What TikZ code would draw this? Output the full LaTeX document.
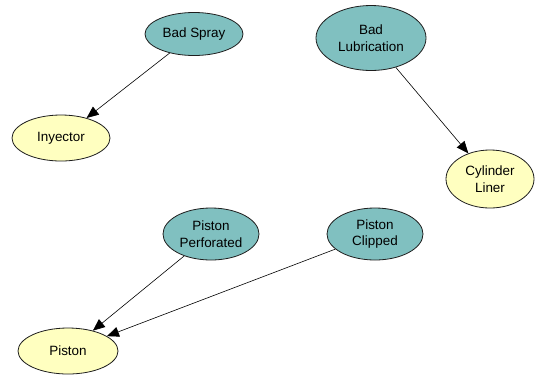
\documentclass[tikz,border=0pt]{standalone}
\usepackage{fontspec}
\setmainfont{Liberation Sans}
\usetikzlibrary{shapes.geometric,arrows.meta}
\definecolor{causefill}{RGB}{128,192,192}
\definecolor{effectfill}{RGB}{255,255,192}
\definecolor{edgeline}{RGB}{30,30,30}
\begin{document}
\begin{tikzpicture}[x=1bp,y=-1bp,
  bubble/.style={ellipse,draw=edgeline,line width=0.8bp,inner sep=0pt,align=center,
    font=\fontsize{13.5}{17}\selectfont},
  cause/.style={bubble,fill=causefill},
  effect/.style={bubble,fill=effectfill},
  link/.style={draw=black,line width=0.6bp,-{Triangle[length=12bp,width=10bp]}}]
\useasboundingbox[fill=white] (0,0) rectangle (536,376);
% causes
\node[cause,minimum width=98bp,minimum height=43bp] (spray) at (194,34) {Bad Spray};
\node[cause,minimum width=110bp,minimum height=65bp] (lub) at (371,38) {Bad\\Lubrication};
\node[cause,minimum width=96bp,minimum height=52bp] (perf) at (211,234) {Piston\\Perforated};
\node[cause,minimum width=96bp,minimum height=52bp] (clip) at (375,234) {Piston\\Clipped};
% effects
\node[effect,minimum width=98bp,minimum height=46bp] (iny) at (61,138) {Inyector};
\node[effect,minimum width=88bp,minimum height=58bp] (liner) at (490,179) {Cylinder\\Liner};
\node[effect,minimum width=100bp,minimum height=46bp] (piston) at (68,351) {Piston};
% dependencies
\draw[link] (spray) -- (iny);
\draw[link] (lub) -- (liner);
\draw[link] (perf) -- (piston);
\draw[link] (clip) -- (piston);
\end{tikzpicture}
\end{document}
